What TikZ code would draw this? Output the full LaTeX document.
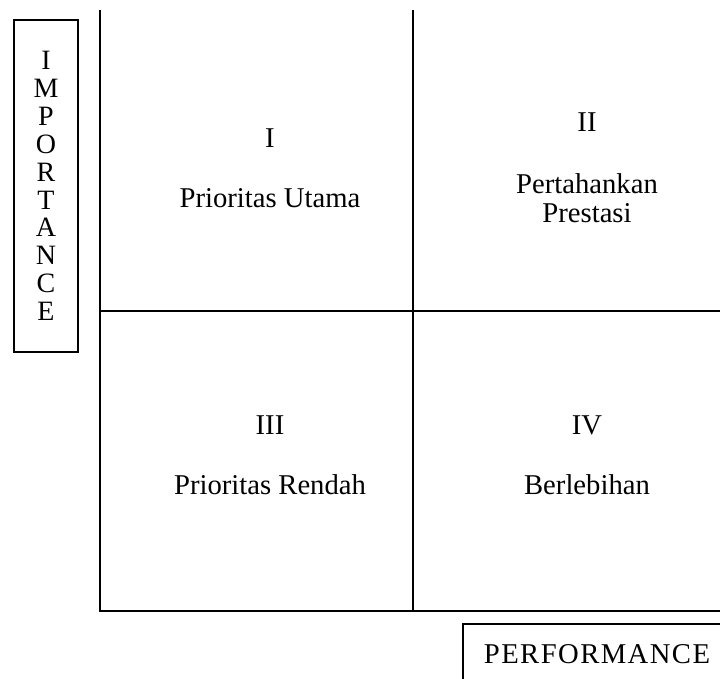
\documentclass[tikz,border=0pt]{standalone}
\usepackage{fontspec}
\setmainfont{Liberation Serif}
\usetikzlibrary{positioning}

\newcommand{\quadfont}{\fontsize{21.5}{21.75}\selectfont}

\begin{document}
\begin{tikzpicture}[x=0.75pt, y=-0.75pt, line width=1.5pt,
    quadtext/.style={font=\quadfont, inner sep=0pt, anchor=base, align=center},
    axisbox/.style={draw, line width=1.5pt, inner sep=0pt, font=\quadfont}]

  \useasboundingbox (0,0) rectangle (720,678);
  \clip (0,0) rectangle (720,678);

  % Assen
  \coordinate (top)      at (100, 10);
  \coordinate (origin)   at (100,611);
  \coordinate (right)    at (720,611);
  \coordinate (midtop)   at (413, 10);
  \coordinate (midbot)   at (413,611);
  \coordinate (midleft)  at (100,311);
  \coordinate (midright) at (720,311);

  \draw (top) -- (origin) -- (right);

  % Kwadrantgrenzen
  \draw (midtop) -- (midbot);
  \draw (midleft) -- (midright);

  % Kwadrant I
  \node[quadtext] (numI)  at (270,147) {I};
  \node[quadtext] (labI)  at (270,207) {Prioritas Utama};

  % Kwadrant II (base = laatste regel)
  \node[quadtext] (numII) at (587,131) {II};
  \node[quadtext] (labII) at (587,222) {Pertahankan\\Prestasi};

  % Kwadrant III
  \node[quadtext] (numIII) at (270,434) {III};
  \node[quadtext] (labIII) at (270,494) {Prioritas Rendah};

  % Kwadrant IV
  \node[quadtext] (numIV) at (587,434) {IV};
  \node[quadtext] (labIV) at (587,494) {Berlebihan};

  % Aslabels
  \node[axisbox, align=center, font=\fontsize{21}{20.9}\selectfont,
        minimum width=48pt, minimum height=249pt]
    (importance) at (46,186) {I\\M\\P\\O\\R\\T\\A\\N\\C\\E};

  \node[axisbox, minimum width=201pt, minimum height=45pt]
    (performance) at (597,654)
    {\addfontfeature{LetterSpace=5}PERFORMANCE};

\end{tikzpicture}
\end{document}
